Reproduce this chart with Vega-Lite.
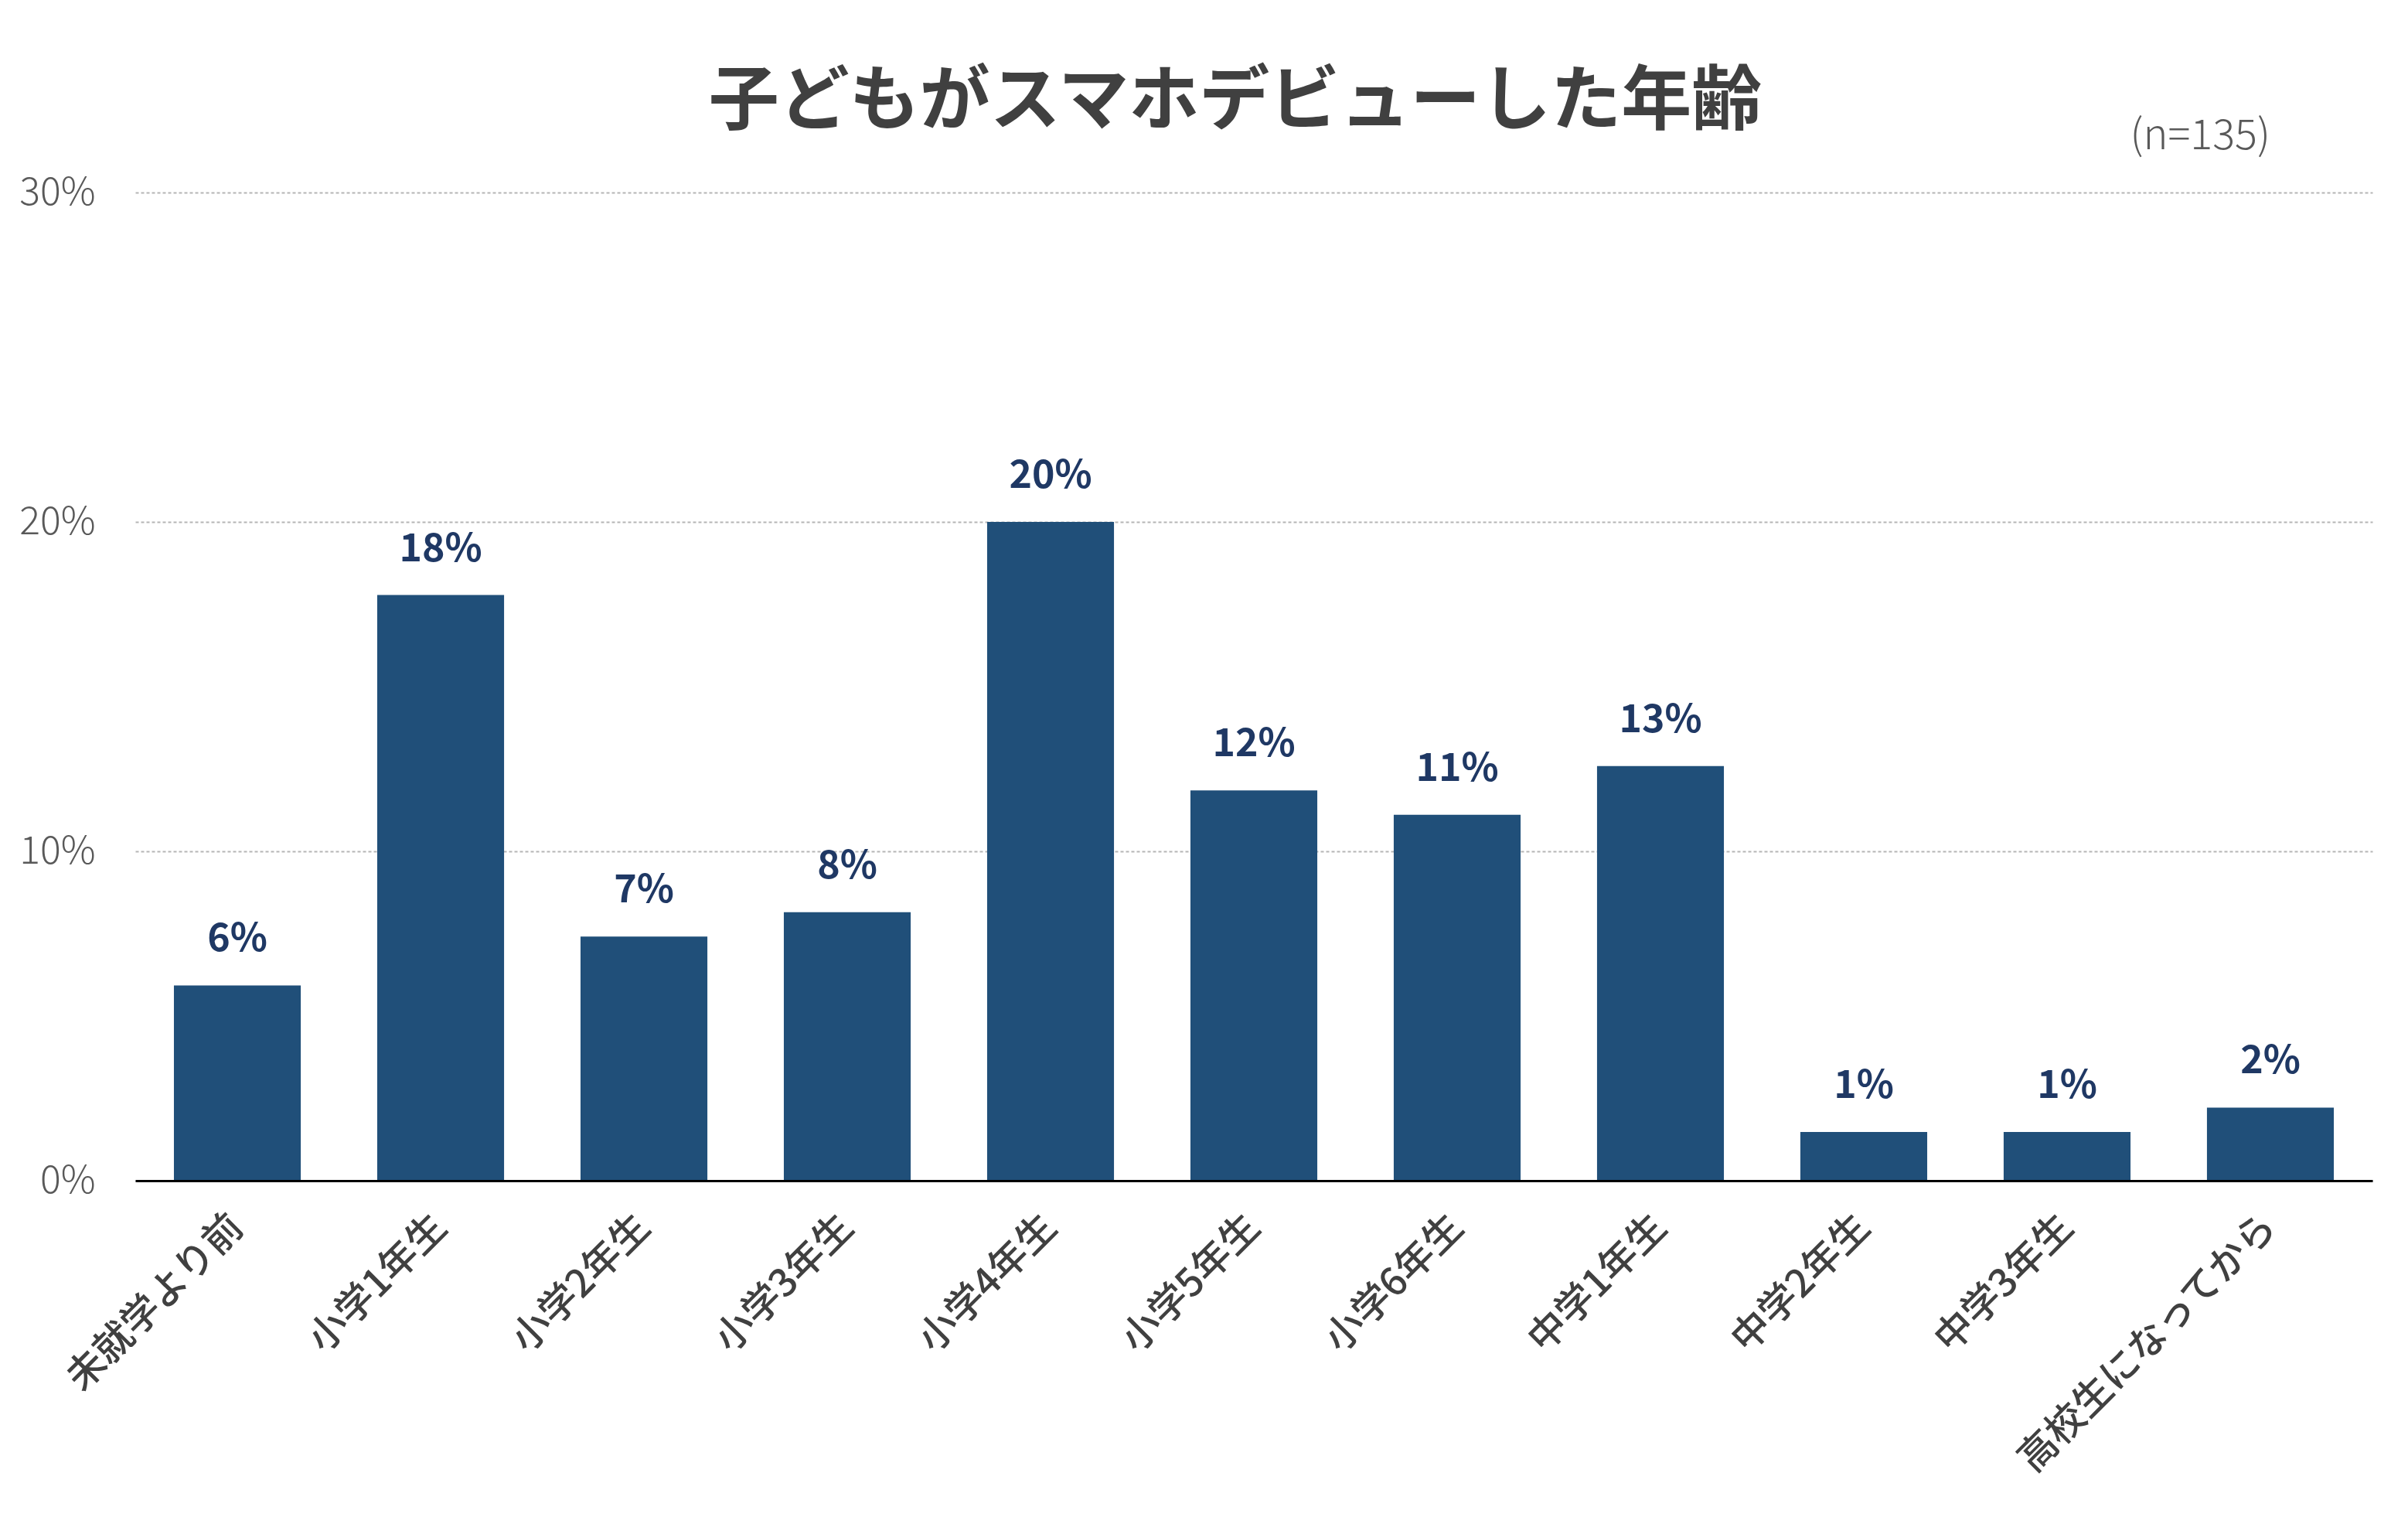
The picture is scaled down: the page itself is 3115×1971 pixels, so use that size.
{
  "$schema": "https://vega.github.io/schema/vega-lite/v6.json",
  "autosize": {"type": "none"},
  "padding": {"left": 175, "top": 249, "right": 46, "bottom": 444},
  "width": 2894,
  "height": 1278,
  "background": "white",
  "config": {
    "view": {"stroke": "transparent"},
    "font": "Noto Sans CJK JP"
  },
  "title": {
    "text": "子どもがスマホデビューした年齢",
    "font": "Noto Sans CJK JP",
    "fontSize": 91,
    "fontWeight": "bold",
    "color": "#404040",
    "anchor": "middle",
    "baseline": "bottom",
    "offset": -120,
    "dx": -24
  },
  "data": {
    "values": [
      {"age": "未就学より前", "share": 0.0593},
      {"age": "小学1年生", "share": 0.1778},
      {"age": "小学2年生", "share": 0.0741},
      {"age": "小学3年生", "share": 0.0815},
      {"age": "小学4年生", "share": 0.2},
      {"age": "小学5年生", "share": 0.1185},
      {"age": "小学6年生", "share": 0.1111},
      {"age": "中学1年生", "share": 0.1259},
      {"age": "中学2年生", "share": 0.0148},
      {"age": "中学3年生", "share": 0.0148},
      {"age": "高校生になってから", "share": 0.0222}
    ]
  },
  "layer": [
    {
      "mark": {"type": "bar", "color": "#204f79"},
      "encoding": {
        "x": {
          "field": "age",
          "type": "nominal",
          "sort": null,
          "scale": {"paddingInner": 0.376, "paddingOuter": 0.19},
          "axis": {
            "title": null,
            "labelAngle": -45,
            "labelAlign": "right",
            "labelBaseline": "middle",
            "labelPadding": 52,
            "labelFontSize": 50,
            "labelFontWeight": 500,
            "labelColor": "#404040",
            "labelFont": "Noto Sans CJK JP",
            "labelLimit": 1000,
            "ticks": false,
            "domainColor": "#000000",
            "domainWidth": 3,
            "zindex": 1
          }
        },
        "y": {
          "field": "share",
          "type": "quantitative",
          "scale": {"domain": [0, 0.3]},
          "axis": {
            "title": null,
            "values": [0, 0.1, 0.2, 0.3],
            "format": ".0%",
            "domain": false,
            "ticks": false,
            "grid": true,
            "gridColor": "#b5b5b5",
            "gridDash": [4, 3],
            "gridWidth": 2,
            "labelFontSize": 50,
            "labelFontWeight": 300,
            "labelColor": "#595959",
            "labelPadding": 52,
            "labelFont": "Noto Sans CJK JP"
          }
        }
      }
    },
    {
      "mark": {
        "type": "text",
        "baseline": "alphabetic",
        "dy": -44,
        "fontSize": 50,
        "fontWeight": "bold",
        "color": "#1f3864",
        "font": "Noto Sans CJK JP"
      },
      "encoding": {
        "x": {"field": "age", "type": "nominal", "sort": null},
        "y": {"field": "share", "type": "quantitative"},
        "text": {"field": "share", "type": "quantitative", "format": ".0%"}
      }
    },
    {
      "data": {"values": [{"note": "(n=135)", "pos": "高校生になってから", "top": 0.3}]},
      "mark": {
        "type": "text",
        "align": "right",
        "baseline": "middle",
        "dy": -72,
        "fontSize": 54,
        "fontWeight": 300,
        "color": "#595959",
        "font": "Noto Sans CJK JP"
      },
      "encoding": {
        "x": {"field": "pos", "type": "nominal", "sort": null},
        "y": {"field": "top", "type": "quantitative"},
        "text": {"field": "note"}
      }
    }
  ]
}
